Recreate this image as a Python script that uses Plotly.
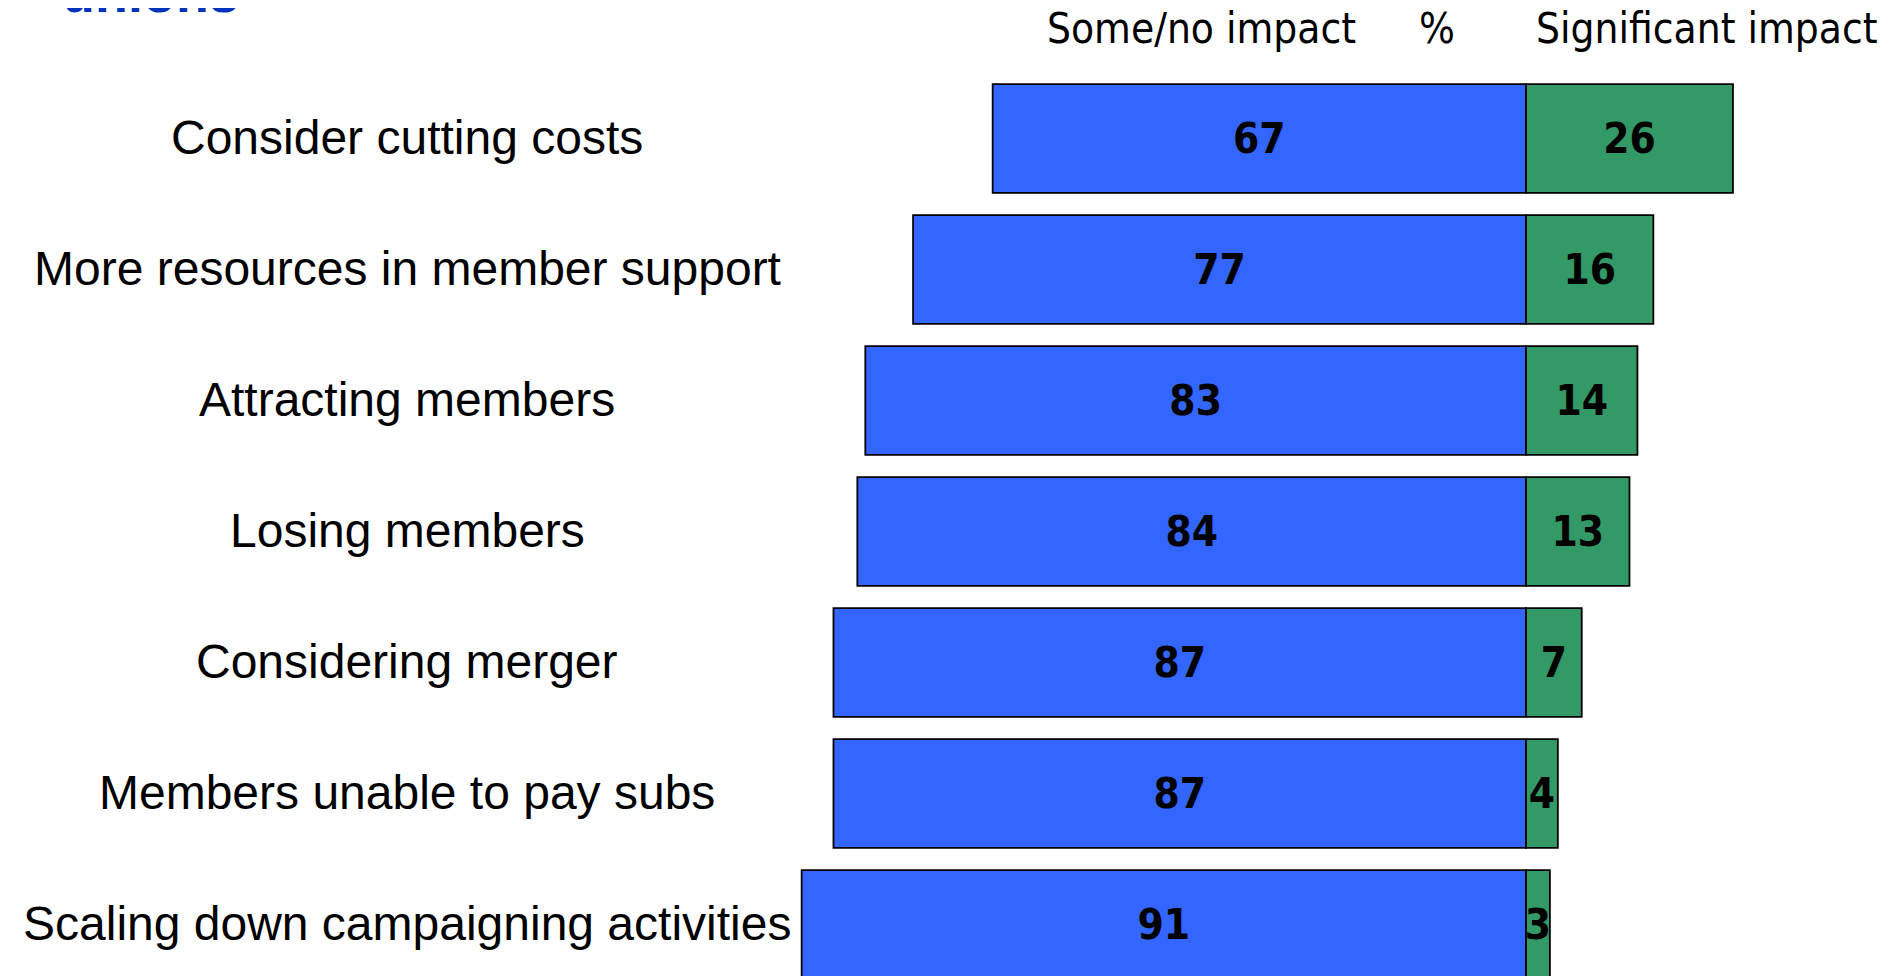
import plotly.graph_objects as go

categories = [
    "Consider cutting costs",
    "More resources in member support",
    "Attracting members",
    "Losing members",
    "Considering merger",
    "Members unable to pay subs",
    "Scaling down campaigning activities",
]
some_no_impact = [67, 77, 83, 84, 87, 87, 91]
significant_impact = [26, 16, 14, 13, 7, 4, 3]

header_left = "Some/no impact"
header_mid = "%"
header_right = "Significant impact"
title_fragment = "unions"

BLUE = "#3366FF"
GREEN = "#339966"
W, H = 1904, 976
OFF = 8  # page body margin

num_font = dict(family="DejaVu Sans Condensed, DejaVu Sans", size=42, color="black", weight="bold")

fig = go.Figure()
fig.add_trace(go.Bar(
    y=categories, x=[-v for v in some_no_impact], orientation="h",
    marker=dict(color=BLUE, line=dict(color="black", width=1.8)),
    text=[str(v) for v in some_no_impact], textposition="inside",
    insidetextanchor="middle", constraintext="none", textangle=0,
    textfont=num_font, width=0.83, hoverinfo="skip",
))
fig.add_trace(go.Bar(
    y=categories, x=significant_impact, orientation="h",
    marker=dict(color=GREEN, line=dict(color="black", width=1.8)),
    text=[str(v) for v in significant_impact], textposition="inside",
    insidetextanchor="middle", constraintext="none", textangle=0,
    textfont=num_font, width=0.83, hoverinfo="skip",
))

# pixel geometry (layout only), in figure coordinates
zero_px = 1526.0 - OFF
px_per_unit = 7.96
first_center_px = 138.5 - OFF
row_px = 131.0

x_range = [-zero_px / px_per_unit, (W - zero_px) / px_per_unit]
y_range = [(H - first_center_px) / row_px, -first_center_px / row_px]

annotations = []
for c in categories:
    annotations.append(dict(
        x=(407 - OFF) / W, xref="paper", y=c, yref="y", text=c, showarrow=False,
        xanchor="center", yanchor="middle", yshift=1,
        font=dict(family="Liberation Sans", size=48, color="black"),
    ))

hdr_font = dict(family="DejaVu Sans Condensed, DejaVu Sans", size=42, color="black")
for txt, xc in [(header_left, 1201), (header_mid, 1437), (header_right, 1706)]:
    annotations.append(dict(
        x=(xc - OFF) / W, xref="paper", y=1, yref="paper", text=txt,
        showarrow=False, xanchor="center", yanchor="top", yshift=6, font=hdr_font,
    ))

annotations.append(dict(
    x=(60 - OFF) / W, xref="paper", y=1 - 17 / H, yref="paper", text=title_fragment,
    showarrow=False, xanchor="left", yanchor="bottom",
    font=dict(family="Liberation Sans", size=54, color="#0033BB", weight="bold"),
))

fig.update_layout(
    width=W, height=H, barmode="relative",
    margin=dict(l=0, r=0, t=0, b=0),
    paper_bgcolor="white", plot_bgcolor="white", showlegend=False,
    xaxis=dict(range=x_range, visible=False, fixedrange=True),
    yaxis=dict(range=y_range, visible=False, type="category",
               categoryorder="array", categoryarray=categories, fixedrange=True),
    annotations=annotations,
)

fig.write_html("out.html", include_plotlyjs=True, config={"displayModeBar": False})
